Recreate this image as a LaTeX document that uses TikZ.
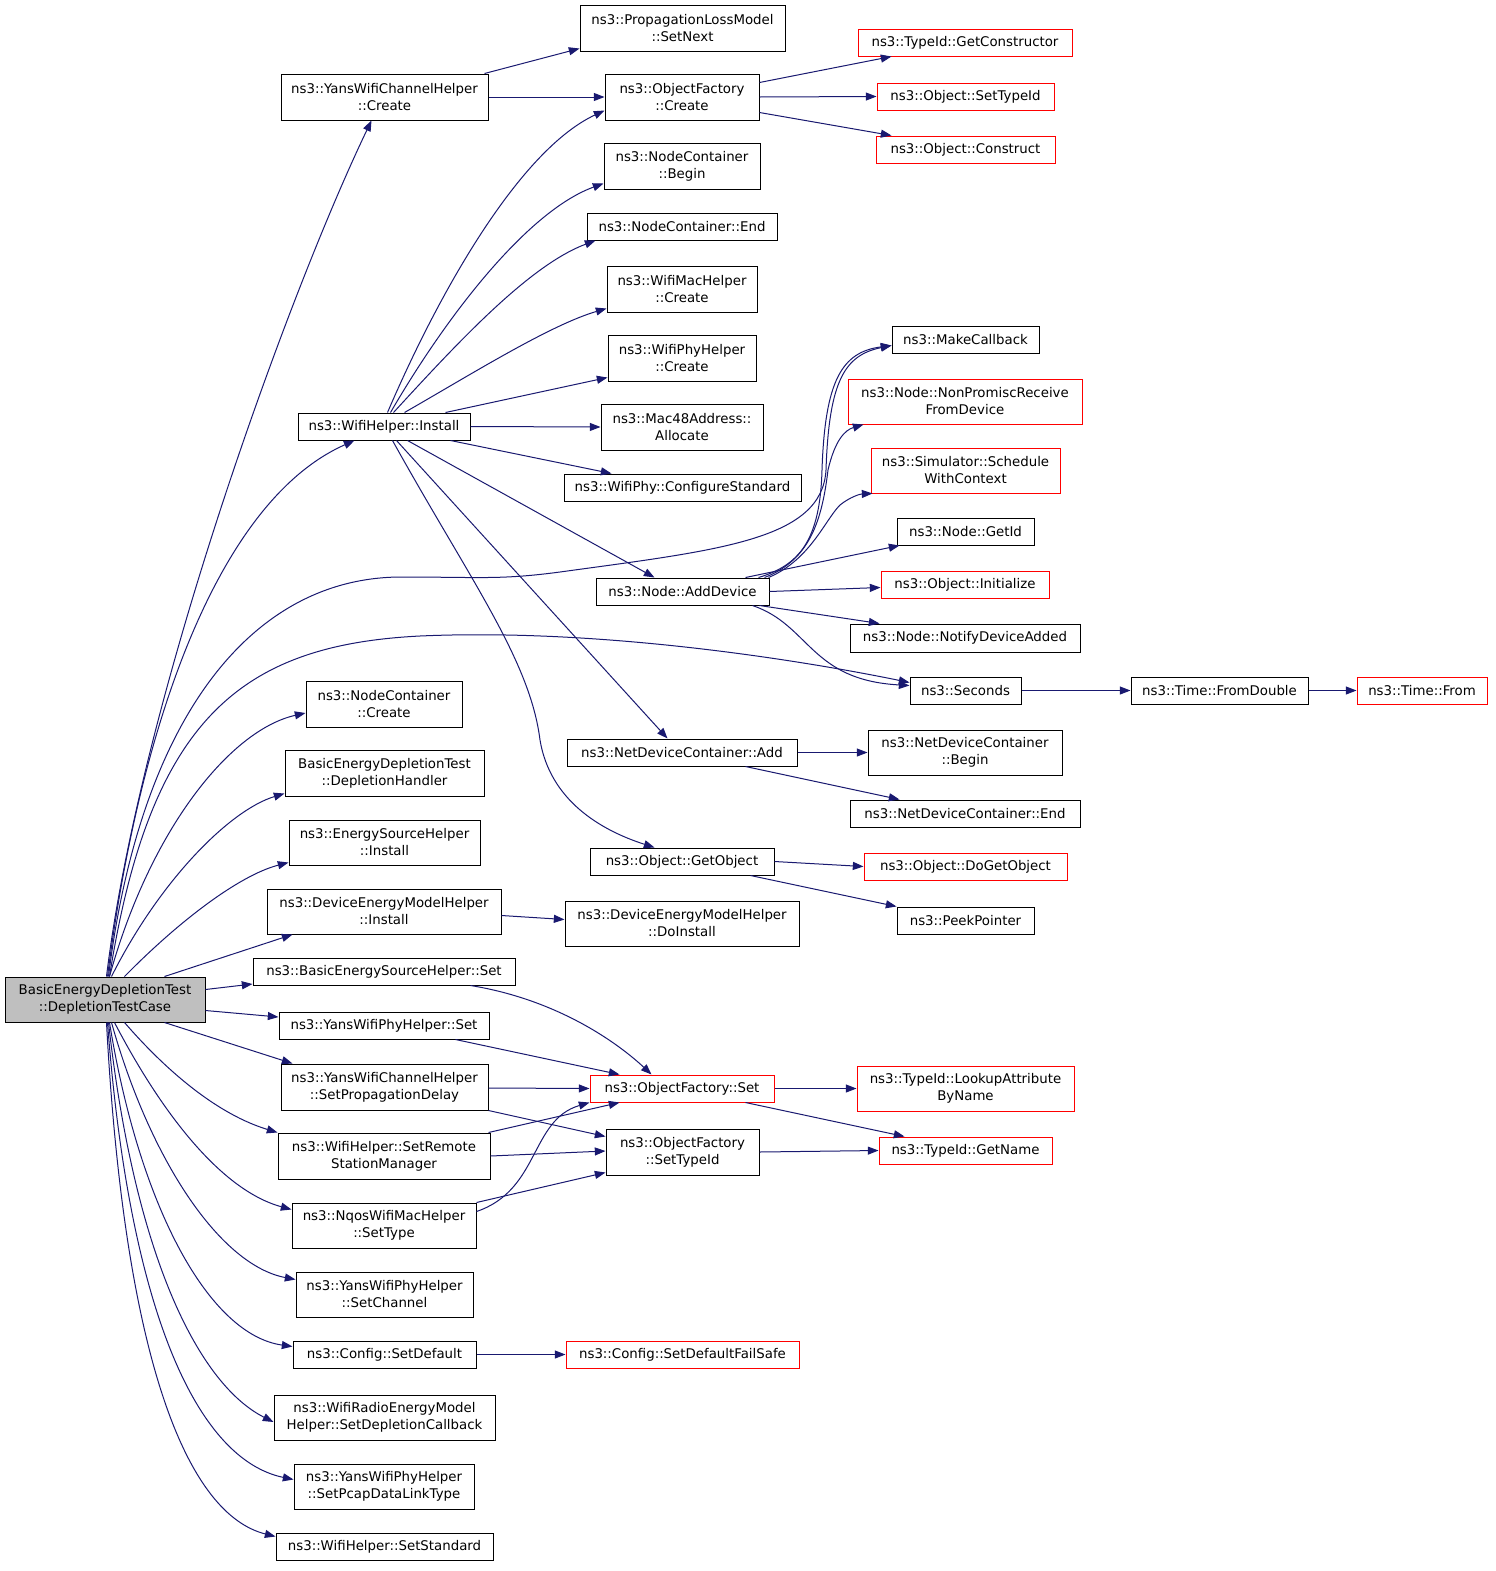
\documentclass[tikz,border=0pt]{standalone}
\usepackage{fontspec}
\setmainfont{DejaVu Sans}
\usetikzlibrary{arrows.meta,calc}
\definecolor{edgec}{HTML}{191970}
\definecolor{redc}{HTML}{FF0000}
\definecolor{rootfill}{HTML}{BFBFBF}
\newcommand{\mkbox}[7]{\node[#6, minimum width={(#4-#2)*0.75pt}, minimum height={(#5-#3)*0.75pt}] (#1) at ({(#2+#4)/2},{(#3+#5)/2}) {#7};}
\begin{document}
\begin{tikzpicture}[x=0.75pt, y=-0.75pt,
  font=\fontsize{10}{12.75}\selectfont,
  boxb/.style={draw=black, line width=0.75pt, inner sep=0pt, align=center},
  boxr/.style={boxb, draw=redc},
  boxroot/.style={boxb, fill=rootfill},
  edge/.style={draw=edgec, line width=0.75pt, -{Triangle[length=8pt,width=6pt]}}]
\useasboundingbox (0,0) rectangle (1496,1571);
\fill[white] (0,0) rectangle (1496,1571);
% column 1
\mkbox{root}{5}{977}{205}{1022}{boxroot}{BasicEnergyDepletionTest\\::DepletionTestCase}
% column 2
\mkbox{ycc}{281}{74}{488}{120}{boxb}{ns3::YansWifiChannelHelper\\::Create}
\mkbox{wfi}{298}{413}{470}{440}{boxb}{ns3::WifiHelper::Install}
\mkbox{ncc}{306}{681}{462}{727}{boxb}{ns3::NodeContainer\\::Create}
\mkbox{dh}{285}{750}{484}{796}{boxb}{BasicEnergyDepletionTest\\::DepletionHandler}
\mkbox{esi}{289}{820}{480}{865}{boxb}{ns3::EnergySourceHelper\\::Install}
\mkbox{demi}{267}{889}{501}{934}{boxb}{ns3::DeviceEnergyModelHelper\\::Install}
\mkbox{bess}{253}{958}{515}{985}{boxb}{ns3::BasicEnergySourceHelper::Set}
\mkbox{ywps}{279}{1012}{489}{1039}{boxb}{ns3::YansWifiPhyHelper::Set}
\mkbox{spd}{281}{1064}{488}{1110}{boxb}{ns3::YansWifiChannelHelper\\::SetPropagationDelay}
\mkbox{srsm}{278}{1133}{490}{1179}{boxb}{ns3::WifiHelper::SetRemote\\StationManager}
\mkbox{nqos}{292}{1203}{476}{1248}{boxb}{ns3::NqosWifiMacHelper\\::SetType}
\mkbox{sch}{296}{1272}{473}{1317}{boxb}{ns3::YansWifiPhyHelper\\::SetChannel}
\mkbox{csd}{293}{1341}{476}{1368}{boxb}{ns3::Config::SetDefault}
\mkbox{sdc}{274}{1395}{495}{1440}{boxb}{ns3::WifiRadioEnergyModel\\Helper::SetDepletionCallback}
\mkbox{spdl}{294}{1464}{474}{1509}{boxb}{ns3::YansWifiPhyHelper\\::SetPcapDataLinkType}
\mkbox{sst}{276}{1533}{493}{1560}{boxb}{ns3::WifiHelper::SetStandard}
% column 3
\mkbox{plm}{580}{5}{785}{51}{boxb}{ns3::PropagationLossModel\\::SetNext}
\mkbox{ofc}{605}{74}{759}{120}{boxb}{ns3::ObjectFactory\\::Create}
\mkbox{ncb}{604}{143}{760}{189}{boxb}{ns3::NodeContainer\\::Begin}
\mkbox{nce}{587}{213}{777}{240}{boxb}{ns3::NodeContainer::End}
\mkbox{wmc}{607}{266}{757}{312}{boxb}{ns3::WifiMacHelper\\::Create}
\mkbox{wpc}{608}{335}{756}{381}{boxb}{ns3::WifiPhyHelper\\::Create}
\mkbox{mac}{601}{404}{763}{450}{boxb}{ns3::Mac48Address::\\Allocate}
\mkbox{wcs}{564}{474}{801}{501}{boxb}{ns3::WifiPhy::ConfigureStandard}
\mkbox{nad}{596}{578}{769}{605}{boxb}{ns3::Node::AddDevice}
\mkbox{ndca}{567}{739}{797}{766}{boxb}{ns3::NetDeviceContainer::Add}
\mkbox{ogo}{590}{848}{774}{875}{boxb}{ns3::Object::GetObject}
\mkbox{ddi}{565}{901}{799}{946}{boxb}{ns3::DeviceEnergyModelHelper\\::DoInstall}
\mkbox{ofs}{590}{1075}{774}{1102}{boxr}{ns3::ObjectFactory::Set}
\mkbox{ofst}{606}{1129}{759}{1175}{boxb}{ns3::ObjectFactory\\::SetTypeId}
\mkbox{cfs}{566}{1341}{799}{1368}{boxr}{ns3::Config::SetDefaultFailSafe}
% column 4
\mkbox{gc}{858}{29}{1072}{56}{boxr}{ns3::TypeId::GetConstructor}
\mkbox{ost}{877}{83}{1054}{110}{boxr}{ns3::Object::SetTypeId}
\mkbox{oc}{876}{136}{1055}{163}{boxr}{ns3::Object::Construct}
\mkbox{mcb}{892}{326}{1039}{353}{boxb}{ns3::MakeCallback}
\mkbox{npr}{848}{379}{1082}{424}{boxr}{ns3::Node::NonPromiscReceive\\FromDevice}
\mkbox{swc}{871}{448}{1060}{493}{boxr}{ns3::Simulator::Schedule\\WithContext}
\mkbox{gid}{897}{518}{1034}{545}{boxb}{ns3::Node::GetId}
\mkbox{oin}{881}{571}{1049}{598}{boxr}{ns3::Object::Initialize}
\mkbox{nda}{850}{624}{1080}{652}{boxb}{ns3::Node::NotifyDeviceAdded}
\mkbox{sec}{910}{677}{1021}{704}{boxb}{ns3::Seconds}
\mkbox{ndcb}{868}{730}{1062}{775}{boxb}{ns3::NetDeviceContainer\\::Begin}
\mkbox{ndce}{850}{800}{1080}{827}{boxb}{ns3::NetDeviceContainer::End}
\mkbox{dgo}{864}{853}{1067}{880}{boxr}{ns3::Object::DoGetObject}
\mkbox{pp}{897}{907}{1034}{934}{boxb}{ns3::PeekPointer}
\mkbox{lan}{857}{1066}{1074}{1111}{boxr}{ns3::TypeId::LookupAttribute\\ByName}
\mkbox{gn}{879}{1137}{1052}{1164}{boxr}{ns3::TypeId::GetName}
% column 5, 6
\mkbox{tfd}{1131}{677}{1308}{704}{boxb}{ns3::Time::FromDouble}
\mkbox{tfr}{1357}{677}{1487}{704}{boxr}{ns3::Time::From}

% ---- edges from root (upper) ----
\draw[edge] ($(root.north west)+(102,0)$) .. controls (140,700) and (290,290) .. ($(ycc.south west)+(91,0)$);
\draw[edge] ($(root.north west)+(103,0)$) .. controls (140,720) and (220,500) .. ($(wfi.south west)+(57,0)$);
\draw[edge] ($(root.north west)+(104,0)$) .. controls (140,720) and (250,578) .. (400,577) .. controls (480,577) and (500,580) .. (560,572) .. controls (720,550) and (822,540) .. (826,470) .. controls (829,380) and (845,355) .. ($(mcb.south west)+(0,-8)$);
\draw[edge] ($(root.north west)+(105,0)$) .. controls (150,720) and (240,645) .. (420,636) .. controls (600,628) and (800,660) .. ($(sec.north west)+(0,6)$);
\draw[edge] ($(root.north west)+(105,0)$) .. controls (150,830) and (230,730) .. ($(ncc.west)+(0,9)$);
\draw[edge] ($(root.north west)+(107,0)$) .. controls (160,880) and (230,810) .. ($(dh.south west)+(0,-3)$);
\draw[edge] ($(root.north west)+(120,0)$) .. controls (180,920) and (240,875) .. ($(esi.south west)+(0,-3)$);
\draw[edge] ($(root.north west)+(160,0)$) -- ($(demi.south west)+(26,0)$);
\draw[edge] ($(root.north east)+(0,13)$) -- ($(bess.west)+(0,12.5)$);
% ---- edges from root (lower) ----
\draw[edge] ($(root.south east)+(0,-12)$) -- ($(ywps.west)+(0,-8.5)$);
\draw[edge] ($(root.south west)+(160,0)$) -- ($(spd.north west)+(12,0)$);
\draw[edge] ($(root.south west)+(120,0)$) .. controls (170,1075) and (220,1115) .. (srsm.north west);
\draw[edge] ($(root.south west)+(110,0)$) .. controls (160,1110) and (220,1190) .. ($(nqos.north west)+(0,7)$);
\draw[edge] ($(root.south west)+(107,0)$) .. controls (150,1160) and (220,1265) .. ($(sch.north west)+(0,8)$);
\draw[edge] ($(root.south west)+(105,0)$) .. controls (140,1210) and (210,1335) .. ($(csd.north west)+(0,6)$);
\draw[edge] ($(root.south west)+(104,0)$) .. controls (135,1260) and (200,1385) .. ($(sdc.west)+(0,4.5)$);
\draw[edge] ($(root.south west)+(103,0)$) .. controls (130,1320) and (200,1460) .. ($(spdl.north west)+(0,16)$);
\draw[edge] ($(root.south west)+(102,0)$) .. controls (125,1370) and (190,1515) .. ($(sst.north west)+(0,4)$);

% ---- YansWifiChannelHelper::Create ----
\draw[edge] ($(ycc.north east)+(-4,0)$) -- ($(plm.south west)+(0,-3)$);
\draw[edge] (ycc.east) -- (ofc.west);
% ---- ObjectFactory::Create ----
\draw[edge] ($(ofc.north east)+(0,9)$) -- ($(gc.south west)+(34,0)$);
\draw[edge] (ofc.east) -- (ost.west);
\draw[edge] ($(ofc.south east)+(0,-8)$) -- ($(oc.north west)+(16,0)$);
% ---- WifiHelper::Install ----
\draw[edge] ($(wfi.north west)+(90,0)$) .. controls (440,290) and (520,150) .. ($(ofc.south west)+(0,-10)$);
\draw[edge] ($(wfi.north west)+(93,0)$) .. controls (450,310) and (530,210) .. ($(ncb.south west)+(0,-6)$);
\draw[edge] ($(wfi.north west)+(96,0)$) .. controls (460,340) and (530,265) .. ($(nce.south west)+(9,0)$);
\draw[edge] ($(wfi.north west)+(107,0)$) .. controls (470,375) and (550,325) .. ($(wmc.south west)+(0,-4)$);
\draw[edge] ($(wfi.north east)+(-25,0)$) -- ($(wpc.south west)+(0,-4)$);
\draw[edge] (wfi.east) -- (mac.west);
\draw[edge] ($(wfi.south east)+(-20,0)$) -- ($(wcs.north west)+(48,0)$);
\draw[edge] ($(wfi.south west)+(110,0)$) -- ($(nad.north west)+(59,0)$);
\draw[edge] ($(wfi.south west)+(99,0)$) -- ($(ndca.north west)+(101,0)$);
\draw[edge] ($(wfi.south west)+(95,0)$) .. controls (470,580) and (530,660) .. (540,740) .. controls (550,800) and (600,830) .. ($(ogo.north west)+(65,0)$);
% ---- Node::AddDevice ----
\draw[edge] ($(nad.north east)+(-11,0)$) .. controls (800,565) and (820,540) .. (822,470) .. controls (825,380) and (842,352) .. ($(mcb.south west)+(0,-8)$);
\draw[edge] ($(nad.north east)+(-5,0)$) .. controls (810,560) and (822,520) .. (828,470) .. controls (835,440) and (845,430) .. ($(npr.south west)+(16,0)$);
\draw[edge] ($(nad.north east)+(-1,0)$) .. controls (810,560) and (825,520) .. (840,505) .. controls (850,497) and (860,494) .. ($(swc.south west)+(2,0)$);
\draw[edge] ($(nad.north east)+(-24,0)$) -- ($(gid.south west)+(3,0)$);
\draw[edge] (nad.east) -- ($(oin.west)+(0,3)$);
\draw[edge] ($(nad.south east)+(-10,0)$) -- ($(nda.north west)+(30,0)$);
\draw[edge] ($(nad.south east)+(-17,0)$) .. controls (810,625) and (810,680) .. ($(sec.north west)+(0,9)$);
% ---- Seconds chain ----
\draw[edge] (sec.east) -- (tfd.west);
\draw[edge] (tfd.east) -- (tfr.west);
% ---- NetDeviceContainer::Add ----
\draw[edge] (ndca.east) -- (ndcb.west);
\draw[edge] ($(ndca.south east)+(-52,0)$) -- ($(ndce.north west)+(50,0)$);
% ---- Object::GetObject ----
\draw[edge] (ogo.east) -- (dgo.west);
\draw[edge] ($(ogo.south east)+(-24,0)$) -- (pp.north west);
% ---- DeviceEnergyModelHelper::Install ----
\draw[edge] ($(demi.east)+(0,4)$) -- ($(ddi.west)+(0,-4)$);
% ---- ObjectFactory::Set callers ----
\draw[edge] ($(bess.south east)+(-45,0)$) .. controls (560,1000) and (620,1045) .. ($(ofs.north west)+(62,0)$);
\draw[edge] ($(ywps.south east)+(-34,0)$) -- ($(ofs.north west)+(30,0)$);
\draw[edge] ($(spd.east)+(0,1)$) -- (ofs.west);
\draw[edge] (spd.south east) -- ($(ofst.north west)+(0,8)$);
\draw[edge] ($(srsm.north east)+(-2,0)$) -- ($(ofs.south west)+(30,0)$);
\draw[edge] (srsm.east) -- ($(ofst.west)+(0,-1)$);
\draw[edge] ($(nqos.north east)+(0,9)$) .. controls (540,1190) and (530,1120) .. (ofs.south west);
\draw[edge] (nqos.north east) -- ($(ofst.south west)+(0,-3)$);
% ---- ObjectFactory::Set / SetTypeId ----
\draw[edge] (ofs.east) -- (lan.west);
\draw[edge] ($(ofs.south east)+(-29,0)$) -- ($(gn.north west)+(26,0)$);
\draw[edge] (ofst.east) -- (gn.west);
% ---- Config ----
\draw[edge] (csd.east) -- (cfs.west);
\end{tikzpicture}
\end{document}
